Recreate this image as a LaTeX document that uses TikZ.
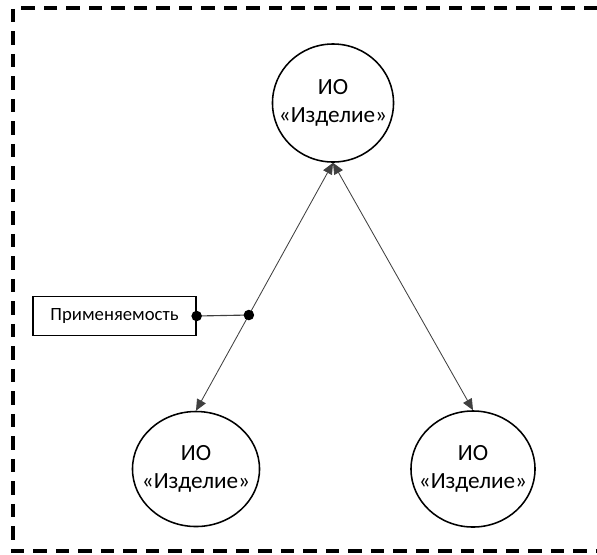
\documentclass[tikz,border=0pt]{standalone}
\usepackage{fontspec}
\setmainfont{Carlito}
\usepackage{tikz}
\usetikzlibrary{shapes.geometric,arrows.meta}

\begin{document}
\begin{tikzpicture}[x=0.025cm,y=-0.025cm,
    io/.style={ellipse,draw,line width=1.1pt,align=center,inner xsep=-8pt,inner ysep=0pt,
      font=\fontsize{16.5}{19.5}\selectfont},
    link/.style={draw=black!75,line width=0.6pt,
      {Triangle[length=8pt,width=7pt]}-{Triangle[length=8pt,width=7pt]}},
    dot/.style={circle,fill=black,inner sep=0pt,minimum size=7.5pt}]
    \useasboundingbox (0,0) rectangle (597,554);
    % frame
    \draw[line width=2.7pt,dash pattern=on 9.5pt off 6.5pt] (597,8) -- (13,8) -- (13,551) -- (597,551);
    % objects
    \node[io,minimum width=2.9cm,minimum height=2.95cm] (ioTop) at (333,103) {ИО\\«Изделие»};
    \node[io,minimum width=3.175cm,minimum height=2.875cm] (ioLeft) at (196,469) {ИО\\«Изделие»};
    \node[io,minimum width=3.1cm,minimum height=2.9cm] (ioRight) at (473,469) {ИО\\«Изделие»};
    \draw[link] (ioTop.south) -- (ioLeft.north) coordinate[pos=0.614] (use);
    \draw[link] (ioTop.south) -- (ioRight.north);
    \node[draw,line width=0.9pt,minimum width=4.075cm,minimum height=0.975cm,
      font=\fontsize{13.3}{15}\selectfont] (apply) at (114.5,316) {Применяемость};
    \draw[black!75,line width=0.8pt] (apply.east) -- (use);
    \node[dot] at (apply.east) {};
    \node[dot] at (use) {};
\end{tikzpicture}
\end{document}
